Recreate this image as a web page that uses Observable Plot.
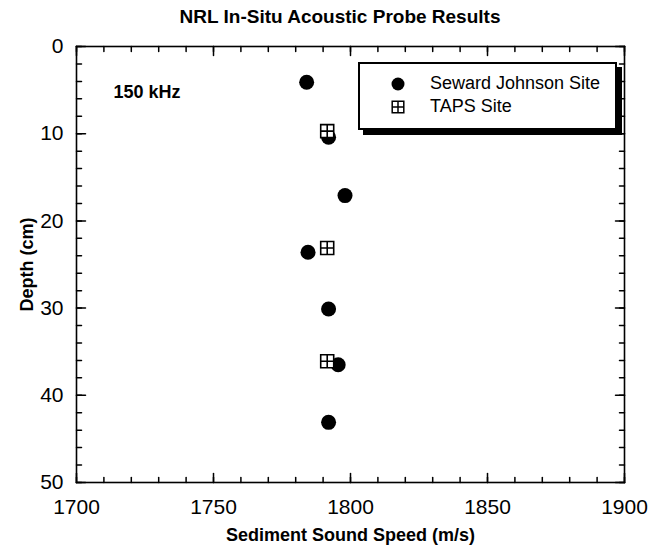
<!DOCTYPE html>
<html><head><meta charset="utf-8">
<script src="https://cdn.jsdelivr.net/npm/d3@7"></script>
<script src="https://cdn.jsdelivr.net/npm/@observablehq/plot@0.6"></script>
<style>
body{margin:0;background:#fff;font-family:"Liberation Sans",Arial,sans-serif;color:#000;}
#wrap{position:relative;width:650px;height:547px;overflow:hidden;}
#chart{position:absolute;left:0;top:0;}
#title{position:absolute;left:0;width:680px;top:6px;line-height:22px;text-align:center;font-weight:bold;font-size:19px;}
#legend{position:absolute;left:358px;top:62px;width:255px;height:56px;border:2px solid #000;box-shadow:5px 5px 0 #000;background:#fff;padding-top:8px;box-sizing:content-box;}
#legend .row{display:flex;align-items:center;height:23px;font-size:18px;}
#legend svg{margin-left:30px;margin-right:24px;}
</style></head><body>
<div id="wrap">
  <div id="chart"></div>
  <div id="title"></div>
  <div id="legend"></div>
</div>
<script>
// ---- data ----
const chartTitle = "NRL In-Situ Acoustic Probe Results";
const freqLabel = "150 kHz";
const xLabel = "Sediment Sound Speed (m/s)";
const yLabel = "Depth (cm)";
const seriesNames = ["Seward Johnson Site", "TAPS Site"];
const sewardSpeed = [1784, 1792, 1798, 1784.5, 1792, 1795.5, 1792];
const sewardDepth = [4.1, 10.4, 17.1, 23.6, 30.1, 36.5, 43.1];
const tapsSpeed = [1791.5, 1791.5, 1791.5];
const tapsDepth = [9.7, 23.1, 36.1];
const xMajor = [1700, 1750, 1800, 1850, 1900];
const xMinor = [1700,1710,1720,1730,1740,1750,1760,1770,1780,1790,1800,1810,1820,1830,1840,1850,1860,1870,1880,1890,1900];
const yMajor = [0, 10, 20, 30, 40, 50];
const yMinor = [0,2,4,6,8,10,12,14,16,18,20,22,24,26,28,30,32,34,36,38,40,42,44,46,48,50];

const seward = sewardSpeed.map((s, i) => ({speed: s, depth: sewardDepth[i], site: seriesNames[0]}));
const taps = tapsSpeed.map((s, i) => ({speed: s, depth: tapsDepth[i], site: seriesNames[1]}));

// square with a cross inside
const crossSquare = {
  draw(ctx, size) {
    const r = Math.sqrt(size / Math.PI);
    ctx.moveTo(-r, -r); ctx.lineTo(r, -r); ctx.lineTo(r, r); ctx.lineTo(-r, r); ctx.closePath();
    ctx.moveTo(0, -r); ctx.lineTo(0, r);
    ctx.moveTo(-r, 0); ctx.lineTo(r, 0);
  }
};
// straight tick segment for vector marks
const tickShape = {draw(ctx, l) { ctx.moveTo(0, 0); ctx.lineTo(0, -l); }};

const font = "Liberation Sans, Arial, sans-serif";
const fmt = d => String(d);
// inward ticks on all four sides of the frame
const inTicks = (len, xs, ys) => [
  Plot.vectorX(xs, {x: d => d, frameAnchor: "bottom", length: len, rotate: 0, anchor: "start", shape: tickShape, stroke: "#000", strokeWidth: 1.5}),
  Plot.vectorX(xs, {x: d => d, frameAnchor: "top", length: len, rotate: 180, anchor: "start", shape: tickShape, stroke: "#000", strokeWidth: 1.5}),
  Plot.vectorY(ys, {y: d => d, frameAnchor: "left", length: len, rotate: 90, anchor: "start", shape: tickShape, stroke: "#000", strokeWidth: 1.5}),
  Plot.vectorY(ys, {y: d => d, frameAnchor: "right", length: len, rotate: -90, anchor: "start", shape: tickShape, stroke: "#000", strokeWidth: 1.5})
];

const chart = Plot.plot({
  width: 650, height: 547,
  marginLeft: 76, marginRight: 26, marginTop: 46, marginBottom: 65,
  style: {fontFamily: font, fontSize: "21px", color: "#000", background: "#fff", overflow: "visible"},
  x: {domain: [1700, 1900]},
  y: {domain: [0, 50], reverse: true},
  marks: [
    Plot.frame({stroke: "#000", strokeWidth: 1.6}),
    ...inTicks(5, xMinor, yMinor),
    ...inTicks(9, xMajor, yMajor),
    // tick labels + axis titles
    Plot.axisX(xMajor, {anchor: "bottom", tickSize: 0, tickPadding: 17, tickFormat: fmt, label: xLabel,
      labelAnchor: "center", labelOffset: 58, labelArrow: "none"}),
    Plot.axisY(yMajor, {anchor: "left", tickSize: 0, tickPadding: 13, tickFormat: fmt, label: yLabel,
      labelAnchor: "center", labelOffset: 56, labelArrow: "none"}),
    // annotation
    Plot.text([freqLabel], {frameAnchor: "top-left", dx: 37, dy: 39, textAnchor: "start",
      fontWeight: "bold", fontSize: 18, fill: "#000"}),
    // data
    Plot.dot(seward, {x: "speed", y: "depth", r: 7.5, fill: "#000", stroke: "none", symbol: "circle"}),
    Plot.dot(taps, {x: "speed", y: "depth", r: 6.5, fill: "#fff", stroke: "#000", strokeWidth: 1.6, symbol: crossSquare})
  ]
});
document.getElementById("chart").appendChild(chart);

// style axis titles
const svg = d3.select(chart);
svg.selectAll('[aria-label="x-axis label"], [aria-label="y-axis label"]')
  .attr("font-weight", "bold").attr("font-size", 18);

document.getElementById("title").textContent = chartTitle;

// legend
const legend = d3.select("#legend");
seriesNames.forEach((name, i) => {
  const row = legend.append("div").attr("class", "row");
  const s = row.append("svg").attr("width", 16).attr("height", 16).attr("viewBox", "-8 -8 16 16");
  if (i === 0) {
    s.append("circle").attr("r", 6.5).attr("fill", "#000");
  } else {
    const p = d3.path();
    crossSquare.draw(p, Math.PI * 5.8 * 5.8);
    s.append("path").attr("d", p.toString()).attr("fill", "#fff").attr("stroke", "#000").attr("stroke-width", 1.5);
  }
  row.append("span").text(name);
});
</script>
</body></html>
